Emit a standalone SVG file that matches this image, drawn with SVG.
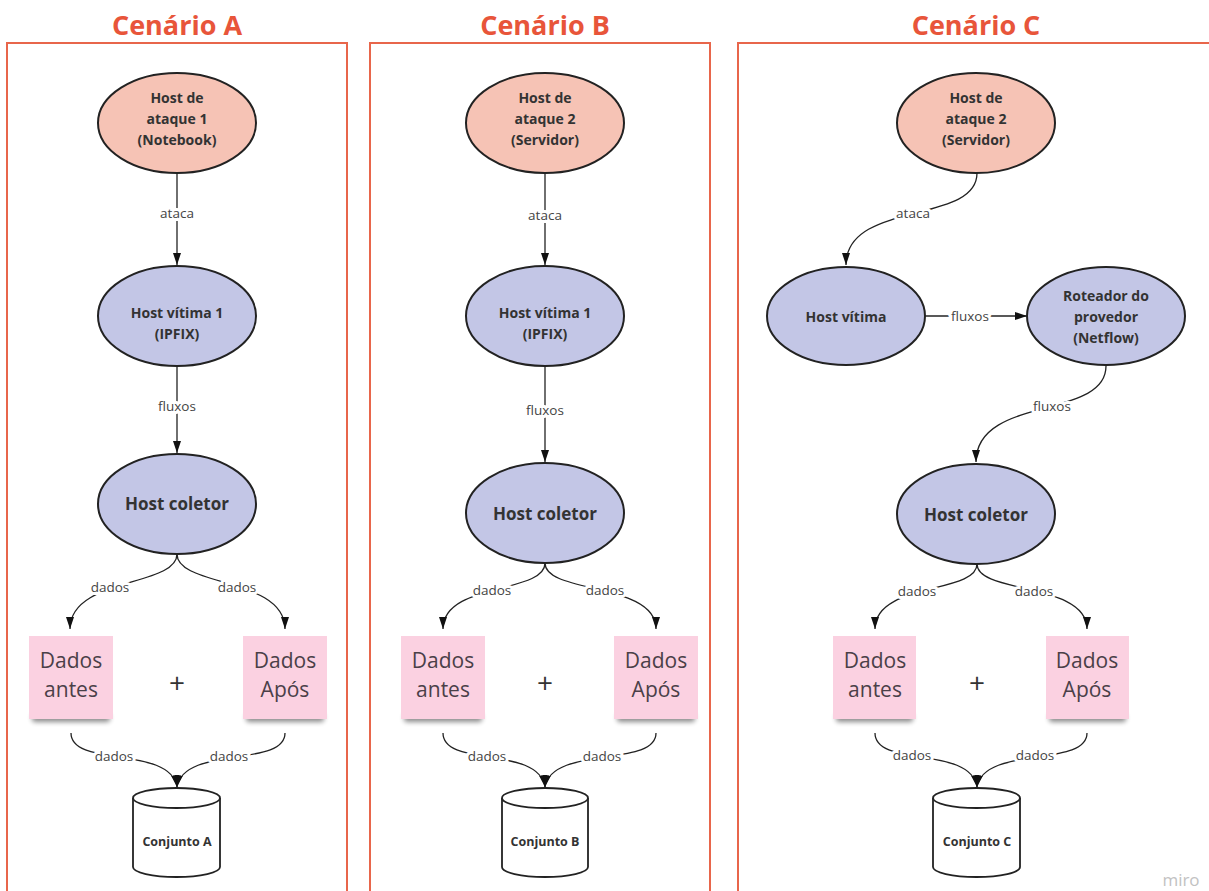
<svg xmlns="http://www.w3.org/2000/svg" width="1209" height="891" viewBox="0 0 1209 891">
  <defs>
    <style>
      .frame { fill: none; stroke: #e8664b; stroke-width: 2; }
      .title { font-family: "Open Sans", "Liberation Sans", sans-serif; font-weight: 700; font-size: 27px; fill: #e8553a; text-anchor: middle; }
      .attack { fill: #f6c3b5; stroke: #222; stroke-width: 2; }
      .host { fill: #c3c6e6; stroke: #222; stroke-width: 2; }
      .lbl { font-family: "Open Sans", "Liberation Sans", sans-serif; font-weight: 700; font-size: 14px; fill: #333; text-anchor: middle; dominant-baseline: central; }
      .big { font-size: 17px; }
      .small { font-size: 12.5px; }
      .edge { fill: none; stroke: #222; stroke-width: 1.3; }
      .elbl { font-family: "Open Sans", "Liberation Sans", sans-serif; font-size: 13.5px; fill: #444; text-anchor: middle; dominant-baseline: central; stroke: #fff; stroke-width: 6; paint-order: stroke; stroke-linejoin: round; }
      .sticky { fill: #fbd1e1; }
      .stxt { font-family: "Open Sans", "Liberation Sans", sans-serif; font-size: 21px; fill: #4a4048; text-anchor: middle; dominant-baseline: central; }
      .plus { font-family: "Open Sans", "Liberation Sans", sans-serif; font-size: 28px; fill: #333; text-anchor: middle; dominant-baseline: central; }
      .db { fill: #fff; stroke: #222; stroke-width: 1.8; }
      .shadow { fill: #000; opacity: 0.45; filter: url(#soft); }
    </style>
    <marker id="arr" viewBox="0 0 12 8" refX="12" refY="4" markerWidth="12" markerHeight="8" markerUnits="userSpaceOnUse" orient="auto">
      <path d="M0,0 L12,4 L0,8 z" fill="#111"/>
    </marker>
    <filter id="soft" x="-20%" y="-100%" width="140%" height="300%">
      <feGaussianBlur stdDeviation="2.5"/>
    </filter>
  </defs>

  <rect width="1209" height="891" fill="#fff"/>

  <!-- scenario frames and titles -->
  <g id="frames">
    <rect class="frame" x="7" y="43" width="340" height="870"/>
    <rect class="frame" x="370" y="43" width="340" height="870"/>
    <rect class="frame" x="738" y="43" width="500" height="870"/>
    <text class="title" x="177" y="35">Cenário A</text>
    <text class="title" x="545" y="35">Cenário B</text>
    <text class="title" x="976" y="35">Cenário C</text>
  </g>

  <!-- connectors -->
  <g id="connectors">
    <!-- A -->
    <path class="edge" d="M177,173 L177,265" marker-end="url(#arr)"/>
    <path class="edge" d="M177,366 L177,453" marker-end="url(#arr)"/>
    <path class="edge" d="M177,554 C177,587 70,577 70,629" marker-end="url(#arr)"/>
    <path class="edge" d="M177,554 C177,587 285,577 285,629" marker-end="url(#arr)"/>
    <path class="edge" d="M71,733 C71,768 170,745 177,787" marker-end="url(#arr)"/>
    <path class="edge" d="M285,733 C285,768 184,745 177,787" marker-end="url(#arr)"/>
    <text class="elbl" x="177" y="213">ataca</text>
    <text class="elbl" x="177" y="406">fluxos</text>
    <text class="elbl" x="110" y="587">dados</text>
    <text class="elbl" x="237" y="587">dados</text>
    <text class="elbl" x="114" y="756">dados</text>
    <text class="elbl" x="229" y="756">dados</text>

    <!-- B -->
    <path class="edge" d="M545,173 L545,265" marker-end="url(#arr)"/>
    <path class="edge" d="M545,366 L545,462" marker-end="url(#arr)"/>
    <path class="edge" d="M545,563 C545,594 443,582 443,629" marker-end="url(#arr)"/>
    <path class="edge" d="M545,563 C545,594 656,582 656,629" marker-end="url(#arr)"/>
    <path class="edge" d="M443,733 C443,768 538,745 545,787" marker-end="url(#arr)"/>
    <path class="edge" d="M656,733 C656,768 552,745 545,787" marker-end="url(#arr)"/>
    <text class="elbl" x="545" y="215">ataca</text>
    <text class="elbl" x="545" y="410">fluxos</text>
    <text class="elbl" x="492" y="590">dados</text>
    <text class="elbl" x="605" y="590">dados</text>
    <text class="elbl" x="487" y="756">dados</text>
    <text class="elbl" x="602" y="756">dados</text>

    <!-- C -->
    <path class="edge" d="M977,173 C977,225 846,200 846,265" marker-end="url(#arr)"/>
    <path class="edge" d="M925,316 L1027,316" marker-end="url(#arr)"/>
    <path class="edge" d="M1106,366 C1106,420 976,395 976,462" marker-end="url(#arr)"/>
    <path class="edge" d="M977,564 C977,594 875,582 875,629" marker-end="url(#arr)"/>
    <path class="edge" d="M977,564 C977,594 1087,582 1087,629" marker-end="url(#arr)"/>
    <path class="edge" d="M875,733 C875,768 970,745 977,787" marker-end="url(#arr)"/>
    <path class="edge" d="M1087,733 C1087,768 984,745 977,787" marker-end="url(#arr)"/>
    <text class="elbl" x="913" y="213">ataca</text>
    <text class="elbl" x="970" y="316">fluxos</text>
    <text class="elbl" x="1052" y="406">fluxos</text>
    <text class="elbl" x="917" y="591">dados</text>
    <text class="elbl" x="1034" y="591">dados</text>
    <text class="elbl" x="912" y="755">dados</text>
    <text class="elbl" x="1035" y="755">dados</text>
  </g>

  <!-- Scenario A nodes -->
  <g id="a-attack">
    <ellipse class="attack" cx="177" cy="123" rx="79" ry="50"/>
    <text class="lbl" x="177" y="97">Host de</text>
    <text class="lbl" x="177" y="118">ataque 1</text>
    <text class="lbl" x="177" y="139">(Notebook)</text>
  </g>
  <g id="a-victim">
    <ellipse class="host" cx="177" cy="316" rx="79" ry="50"/>
    <text class="lbl" x="177" y="312">Host vítima 1</text>
    <text class="lbl" x="177" y="333">(IPFIX)</text>
  </g>
  <g id="a-collector">
    <ellipse class="host" cx="177" cy="504" rx="79" ry="50"/>
    <text class="lbl big" x="177" y="503">Host coletor</text>
  </g>
  <g id="a-before">
    <rect class="shadow" x="32" y="714" width="78" height="8" rx="3"/>
    <rect class="sticky" x="29" y="636" width="84" height="83"/>
    <text class="stxt" x="71" y="660">Dados</text>
    <text class="stxt" x="71" y="689">antes</text>
  </g>
  <g id="a-after">
    <rect class="shadow" x="246" y="714" width="78" height="8" rx="3"/>
    <rect class="sticky" x="243" y="636" width="84" height="83"/>
    <text class="stxt" x="285" y="660">Dados</text>
    <text class="stxt" x="285" y="689">Após</text>
  </g>
  <text class="plus" x="177" y="682">+</text>
  <g id="a-set">
    <path class="db" d="M133,798 L133,867 A43.5,10 0 0 0 220,867 L220,798"/>
    <ellipse class="db" cx="176.5" cy="798" rx="43.5" ry="10"/>
    <text class="lbl small" x="177" y="841">Conjunto A</text>
  </g>

  <!-- Scenario B nodes -->
  <g id="b-attack">
    <ellipse class="attack" cx="545" cy="123" rx="79" ry="50"/>
    <text class="lbl" x="545" y="97">Host de</text>
    <text class="lbl" x="545" y="118">ataque 2</text>
    <text class="lbl" x="545" y="139">(Servidor)</text>
  </g>
  <g id="b-victim">
    <ellipse class="host" cx="545" cy="316" rx="79" ry="50"/>
    <text class="lbl" x="545" y="312">Host vítima 1</text>
    <text class="lbl" x="545" y="333">(IPFIX)</text>
  </g>
  <g id="b-collector">
    <ellipse class="host" cx="545" cy="513" rx="79" ry="50"/>
    <text class="lbl big" x="545" y="513">Host coletor</text>
  </g>
  <g id="b-before">
    <rect class="shadow" x="404" y="714" width="78" height="8" rx="3"/>
    <rect class="sticky" x="401" y="636" width="84" height="83"/>
    <text class="stxt" x="443" y="660">Dados</text>
    <text class="stxt" x="443" y="689">antes</text>
  </g>
  <g id="b-after">
    <rect class="shadow" x="617" y="714" width="78" height="8" rx="3"/>
    <rect class="sticky" x="614" y="636" width="84" height="83"/>
    <text class="stxt" x="656" y="660">Dados</text>
    <text class="stxt" x="656" y="689">Após</text>
  </g>
  <text class="plus" x="545" y="682">+</text>
  <g id="b-set">
    <path class="db" d="M502,798 L502,867 A43,10 0 0 0 588,867 L588,798"/>
    <ellipse class="db" cx="545" cy="798" rx="43" ry="10"/>
    <text class="lbl small" x="545" y="841">Conjunto B</text>
  </g>

  <!-- Scenario C nodes -->
  <g id="c-attack">
    <ellipse class="attack" cx="976" cy="123" rx="79" ry="50"/>
    <text class="lbl" x="976" y="97">Host de</text>
    <text class="lbl" x="976" y="118">ataque 2</text>
    <text class="lbl" x="976" y="139">(Servidor)</text>
  </g>
  <g id="c-victim">
    <ellipse class="host" cx="846" cy="316" rx="79" ry="49"/>
    <text class="lbl" x="846" y="316">Host vítima</text>
  </g>
  <g id="c-router">
    <ellipse class="host" cx="1106" cy="316" rx="79" ry="49"/>
    <text class="lbl" x="1106" y="295">Roteador do</text>
    <text class="lbl" x="1106" y="316">provedor</text>
    <text class="lbl" x="1106" y="337">(Netflow)</text>
  </g>
  <g id="c-collector">
    <ellipse class="host" cx="976" cy="514" rx="79" ry="50"/>
    <text class="lbl big" x="976" y="514">Host coletor</text>
  </g>
  <g id="c-before">
    <rect class="shadow" x="836" y="714" width="77" height="8" rx="3"/>
    <rect class="sticky" x="833" y="636" width="83" height="83"/>
    <text class="stxt" x="875" y="660">Dados</text>
    <text class="stxt" x="875" y="689">antes</text>
  </g>
  <g id="c-after">
    <rect class="shadow" x="1049" y="714" width="77" height="8" rx="3"/>
    <rect class="sticky" x="1046" y="636" width="83" height="83"/>
    <text class="stxt" x="1087" y="660">Dados</text>
    <text class="stxt" x="1087" y="689">Após</text>
  </g>
  <text class="plus" x="977" y="682">+</text>
  <g id="c-set">
    <path class="db" d="M933,798 L933,867 A43.5,10 0 0 0 1020,867 L1020,798"/>
    <ellipse class="db" cx="976.5" cy="798" rx="43.5" ry="10"/>
    <text class="lbl small" x="977" y="841">Conjunto C</text>
  </g>

  <text x="1181" y="886" font-family="Open Sans, Liberation Sans, sans-serif" font-size="17" fill="#c2c2c2" text-anchor="middle">miro</text>
</svg>
